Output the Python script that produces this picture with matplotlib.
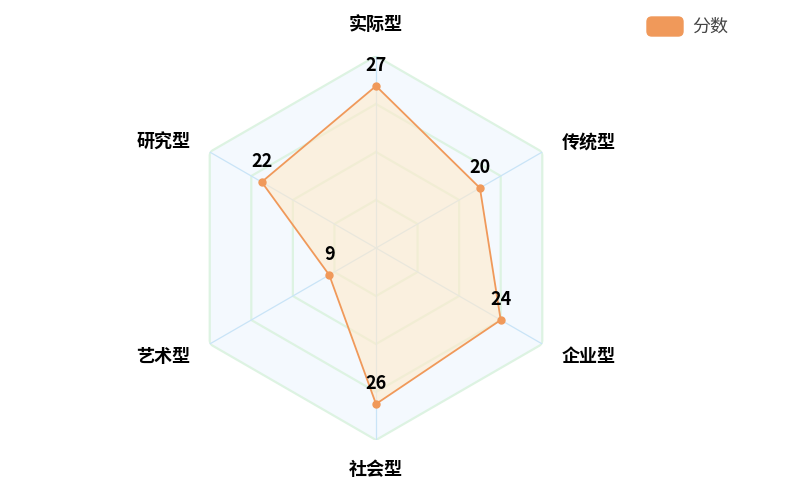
import numpy as np
import matplotlib
matplotlib.use('Agg')
import matplotlib.pyplot as plt
from matplotlib.patches import FancyBboxPatch

plt.rcParams['font.family'] = ['Noto Sans CJK SC', 'DejaVu Sans']

categories = ['实际型', '传统型', '企业型', '社会型', '艺术型', '研究型']
scores = [27, 20, 24, 26, 9, 22]
series_name = '分数'
r_max = 32
n_rings = 4

orange = '#f0995a'

fig = plt.figure(figsize=(8.03, 4.85), dpi=100)
W, H = 803, 485
cx, cy, R = 376, 249, 192
ax = fig.add_axes([(cx - R) / W, (H - cy - R) / H, 2 * R / W, 2 * R / H], projection='polar')
ax.set_theta_offset(np.pi / 2)
ax.set_theta_direction(-1)
ax.set_ylim(0, r_max)
ax.axis('off')

n = len(categories)
angles = np.linspace(0, 2 * np.pi, n, endpoint=False)
closed = np.append(angles, angles[0])

# split area + split lines (hexagons)
ax.fill(closed, [r_max] * (n + 1), color='#f4f9fe', zorder=0, lw=0)
for i in range(1, n_rings + 1):
    rr = r_max * i / n_rings
    ax.plot(closed, [rr] * (n + 1), color='#ddf3e2', lw=1.6, zorder=1)
# axis lines
for a in angles:
    ax.plot([a, a], [0, r_max], color='#c9e4f7', lw=0.9, zorder=1)

# data
vals = np.append(scores, scores[0])
ax.fill(closed, vals, color='#ffeacb', alpha=0.6, zorder=2, lw=0)
ax.plot(closed, vals, color=orange, lw=1.3, zorder=3)
ax.plot(angles, scores, 'o', color=orange, ms=5, zorder=4)

for a, v in zip(angles, scores):
    ax.annotate(str(v), (a, v), xytext=(0, 15.5), textcoords='offset points',
                ha='center', va='center', fontsize=13, fontweight='black',
                color='#000000', zorder=5)

# category names
name_r = [37.4, 35.7, 35.7, 36.8, 35.7, 35.7]
name_ha = ['center', 'left', 'left', 'center', 'right', 'right']
for a, lab, r, ha in zip(angles, categories, name_r, name_ha):
    ax.text(a, r, lab, ha=ha, va='center', fontsize=13, fontweight='black',
            color='#000000', clip_on=False)

# legend
fig.patches.append(FancyBboxPatch((647 / W, 1 - 37 / H), 36 / W, 19 / H,
                                  boxstyle='round,pad=0,rounding_size=0.006',
                                  transform=fig.transFigure, color=orange,
                                  mutation_aspect=W / H))
fig.text(692 / W, 1 - 27 / H, series_name, ha='left', va='center',
         fontsize=13, color='#444444')

fig.savefig('out.png', dpi=100)
